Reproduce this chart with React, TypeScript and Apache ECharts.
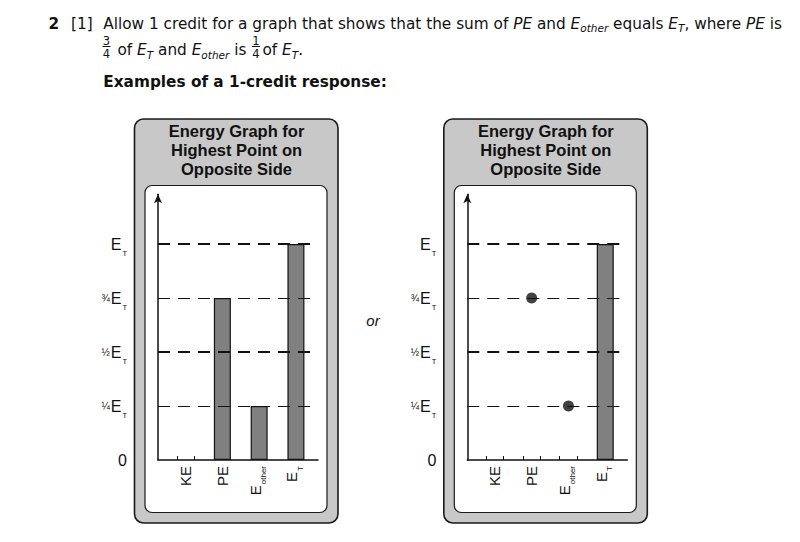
import { useEffect, useRef } from 'react';
import * as echarts from 'echarts';

// categories along the bottom of both graphs
const categories = ['KE', 'PE', 'E_other', 'E_T'];
const categoryLabels = ['KE', 'PE', '{e|E}{s|other}', '{e|E}{s|T}'];

// y ticks as fractions of E_T
const yTicks = [0, 0.25, 0.5, 0.75, 1];
const yTickLabels = ['0', '{f|¼}{e|E}{s|T}', '{f|½}{e|E}{s|T}', '{f|¾}{e|E}{s|T}', '{e|E}{s|T}'];

// left graph: bars only
const barsLeft = [null, 0.75, 0.25, 1];
// right graph: dots for PE and E_other, a bar for E_T
const barsRight = [null, null, null, 1];
const dotsRight = [null, 0.75, 0.25, null];

const panelTitle = 'Energy Graph for\nHighest Point on\nOpposite Side';

const SANS = '"Liberation Sans", Arial, sans-serif';
const VERDANA = '"DejaVu Sans", Verdana, sans-serif';
const INK = '#111';
const BODY_SIZE = 15.3;

// layout
const axisLeft = [158, 467.3];
const axisBottom = 460;
const plotWidth = 160;
const unitPx = 216;
const yMax = 1.23;
const slotHalf = 0.24;

const xRich = {
  e: { fontSize: 15, fontFamily: SANS, color: INK, padding: [0, 0, 8, 0] },
  s: { fontSize: 8, fontFamily: SANS, color: INK, padding: [9, 0, 0, 1] },
};

const yRich = {
  f: { fontSize: 10, fontFamily: SANS, color: INK, padding: [0, 1, 0, 0] },
  e: { fontSize: 16, fontFamily: SANS, color: INK },
  s: { fontSize: 7.5, fontFamily: SANS, color: INK, padding: [18, 0, 0, 1] },
};

const textRich = {
  i: { fontStyle: 'italic', fontSize: BODY_SIZE, fontFamily: VERDANA, color: INK },
  is: { fontStyle: 'italic', fontSize: 10.5, fontFamily: VERDANA, color: INK, padding: [9, 0, 0, 0] },
};

function slotTicks(bars: (number | null)[]) {
  return bars.flatMap((v, i) => (v == null ? [i - slotHalf, i + slotHalf] : []));
}

function dashLines() {
  return {
    silent: true,
    symbol: ['none', 'none'],
    label: { show: false },
    z: 5,
    data: yTicks
      .filter((v) => v > 0)
      .map((v) => ({
        yAxis: v,
        lineStyle: { color: INK, type: [12, 8], width: v === 1 || v === 0.5 ? 2 : 1 },
      })),
  };
}

function buildOption() {
  const graphs = [barsLeft, barsRight];

  const grid = axisLeft.map((left) => ({
    left,
    top: axisBottom - yMax * unitPx,
    width: plotWidth,
    height: yMax * unitPx,
  }));

  const xAxis = graphs.map((bars, k) => ({
    type: 'value',
    gridIndex: k,
    min: -0.75,
    max: 3.6,
    axisLine: { show: true, onZero: false, lineStyle: { color: INK, width: 1.5 } },
    axisTick: {
      show: true,
      inside: true,
      length: 4,
      customValues: slotTicks(bars),
      lineStyle: { color: INK, width: 1 },
    },
    axisLabel: {
      customValues: categories.map((_, i) => i),
      rotate: 90,
      margin: 6,
      fontSize: 15,
      fontFamily: SANS,
      color: INK,
      formatter: (v: number) => categoryLabels[Math.round(v)] ?? '',
      rich: xRich,
    },
    splitLine: { show: false },
  }));

  const yAxis = graphs.map((_, k) => ({
    type: 'value',
    gridIndex: k,
    min: 0,
    max: yMax,
    interval: 0.25,
    axisLine: {
      show: true,
      onZero: false,
      symbol: ['none', 'arrow'],
      symbolSize: [6, 9],
      lineStyle: { color: INK, width: 1.5 },
    },
    axisTick: { show: false },
    splitLine: { show: false },
    axisLabel: {
      margin: 31,
      fontSize: 16,
      fontFamily: SANS,
      color: INK,
      formatter: (v: number) => {
        const i = yTicks.indexOf(v);
        return i < 0 ? '' : yTickLabels[i];
      },
      rich: yRich,
    },
  }));

  const barStyle = { color: '#808080', borderColor: INK, borderWidth: 1.2 };

  const series = [
    {
      type: 'bar',
      xAxisIndex: 0,
      yAxisIndex: 0,
      barWidth: 17,
      itemStyle: barStyle,
      data: barsLeft.map((v, i) => [i, v ?? '-']),
      markLine: dashLines(),
    },
    {
      type: 'bar',
      xAxisIndex: 1,
      yAxisIndex: 1,
      barWidth: 17,
      itemStyle: barStyle,
      data: barsRight.map((v, i) => [i, v ?? '-']),
      markLine: dashLines(),
    },
    {
      type: 'scatter',
      xAxisIndex: 1,
      yAxisIndex: 1,
      symbolSize: 11,
      itemStyle: { color: INK },
      z: 6,
      data: dotsRight.map((v, i) => [i, v ?? '-']),
    },
  ];

  const panelShift = axisLeft[1] - axisLeft[0];
  const panels = [0, panelShift].flatMap((dx) => [
    {
      type: 'rect',
      z: -10,
      shape: { x: 134.5 + dx, y: 119, width: 203.5, height: 404, r: 9 },
      style: { fill: '#c8c8c8', stroke: '#1a1a1a', lineWidth: 1.6 },
    },
    {
      type: 'rect',
      z: -9,
      shape: { x: 145 + dx, y: 185.5, width: 182, height: 327, r: 7 },
      style: { fill: '#fff', stroke: '#1a1a1a', lineWidth: 1.2 },
    },
    {
      type: 'text',
      z: -8,
      x: 236.5 + dx,
      y: 150,
      style: {
        text: panelTitle,
        fontSize: 16.5,
        fontWeight: 'bold',
        fontFamily: SANS,
        lineHeight: 19.3,
        align: 'center',
        verticalAlign: 'middle',
        fill: INK,
      },
    },
  ]);

  const fraction = (cx: number, num: string, den: string) => ({
    type: 'group',
    x: cx,
    y: 0,
    children: [
      { type: 'text', x: 0, y: 40.5, style: { text: num, fontSize: 11.5, fontFamily: VERDANA, fill: INK, align: 'center', verticalAlign: 'middle' } },
      { type: 'line', shape: { x1: -4, y1: 46.5, x2: 4, y2: 46.5 }, style: { stroke: INK, lineWidth: 1 } },
      { type: 'text', x: 0, y: 53.5, style: { text: den, fontSize: 11.5, fontFamily: VERDANA, fill: INK, align: 'center', verticalAlign: 'middle' } },
    ],
  });

  const body = { fontSize: BODY_SIZE, fontFamily: VERDANA, fill: INK, verticalAlign: 'middle', rich: textRich };

  const header = [
    { type: 'text', x: 48.5, y: 23.5, style: { ...body, text: '2', fontWeight: 'bold' } },
    { type: 'text', x: 71, y: 23.5, style: { ...body, text: '[1]' } },
    {
      type: 'text',
      x: 103.3,
      y: 23.5,
      style: {
        ...body,
        text: 'Allow 1 credit for a graph that shows that the sum of {i|PE} and {i|E}{is|other} equals {i|E}{is|T}, where {i|PE} is',
      },
    },
    fraction(106.5, '3', '4'),
    { type: 'text', x: 117.5, y: 50, style: { ...body, text: 'of {i|E}{is|T} and {i|E}{is|other} is' } },
    fraction(256, '1', '4'),
    { type: 'text', x: 262.5, y: 50, style: { ...body, text: 'of {i|E}{is|T}.' } },
    { type: 'text', x: 103.3, y: 82, style: { ...body, text: 'Examples of a 1-credit response:', fontWeight: 'bold' } },
    {
      type: 'text',
      x: 373,
      y: 320,
      style: { text: 'or', fontSize: 15, fontStyle: 'italic', fontFamily: SANS, fill: INK, align: 'center', verticalAlign: 'middle' },
    },
  ];

  return {
    animation: false,
    backgroundColor: '#fff',
    grid,
    xAxis,
    yAxis,
    series,
    graphic: { elements: [...panels, ...header] },
  };
}

export default function App() {
  const chartRef = useRef<HTMLDivElement>(null);

  useEffect(() => {
    if (!chartRef.current) return;
    const chart = echarts.init(chartRef.current, null, { renderer: 'svg' });
    chart.setOption(buildOption());
    return () => {
      chart.dispose();
    };
  }, []);

  return (
    <div
      ref={chartRef}
      style={{ position: 'absolute', left: 0, top: 0, width: 800, height: 542 }}
    />
  );
}
